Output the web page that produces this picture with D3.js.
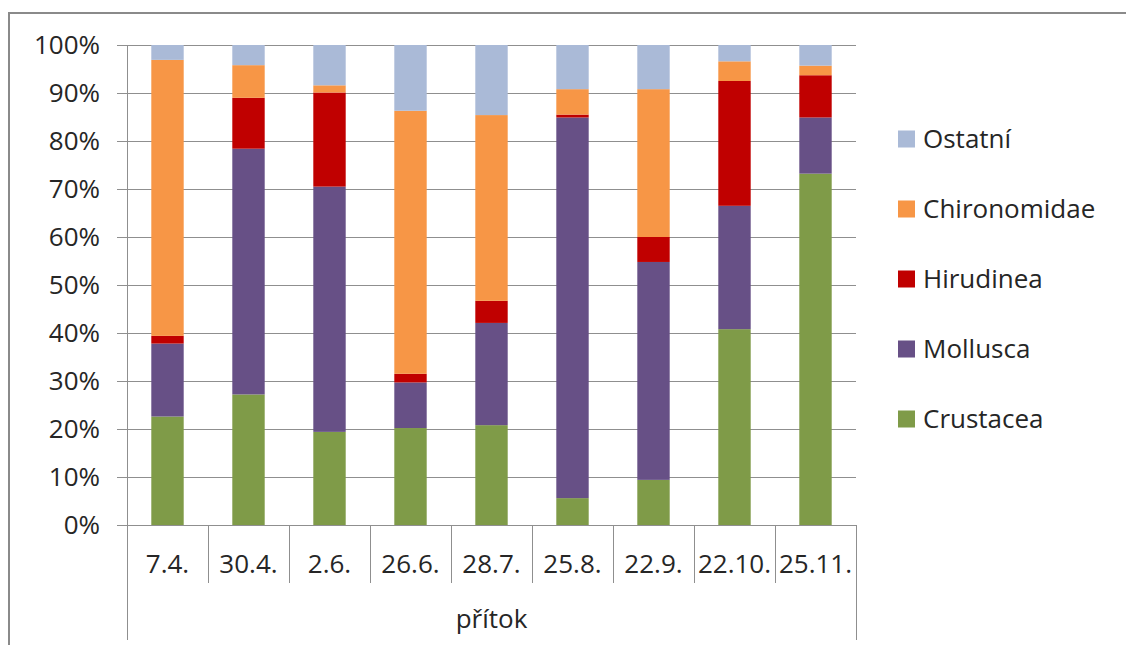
<!DOCTYPE html>
<html>
<head>
<meta charset="utf-8">
<script src="https://cdn.jsdelivr.net/npm/d3@7"></script>
<style>
  html, body { margin: 0; padding: 0; background: #fff; }
  svg { display: block; }
  text { font-family: "Open Sans", "DejaVu Sans", sans-serif; fill: #262626; }
</style>
</head>
<body>
<svg id="chart" width="1126" height="645"></svg>
<script>
const categories = ["7.4.", "30.4.", "2.6.", "26.6.", "28.7.", "25.8.", "22.9.", "22.10.", "25.11."];
const groupLabel = "přítok";
const seriesNames = ["Crustacea", "Mollusca", "Hirudinea", "Chironomidae", "Ostatní"];
const crustacea    = [22.6, 27.2, 19.4, 20.2, 20.8,  5.6,  9.4, 40.8, 73.2];
const mollusca     = [15.2, 51.2, 51.1,  9.5, 21.3, 79.3, 45.4, 25.7, 11.7];
const hirudinea    = [ 1.6, 10.6, 19.6,  1.8,  4.6,  0.6,  5.2, 26.0,  8.8];
const chironomidae = [57.5,  6.8,  1.5, 54.8, 38.7,  5.3, 30.8,  4.1,  2.0];
const ostatni      = [ 3.1,  4.2,  8.4, 13.7, 14.6,  9.2,  9.2,  3.4,  4.3];
const colors = ["#7F9B48", "#675086", "#C00000", "#F79646", "#AABAD7"];
const yTicks = [0, 0.1, 0.2, 0.3, 0.4, 0.5, 0.6, 0.7, 0.8, 0.9, 1.0];

const seriesValues = [crustacea, mollusca, hirudinea, chironomidae, ostatni];
const rows = categories.map((c, i) => {
  const r = { cat: c };
  seriesNames.forEach((s, k) => r[s] = seriesValues[k][i]);
  return r;
});

const svg = d3.select("#chart");
const plotLeft = 127, plotRight = 856, plotTop = 45, plotBottom = 525;
const gridColor = "#8f8f8f";

// outer frame (cut off at right/bottom)
svg.append("rect").attr("x", 9).attr("y", 13).attr("width", 1300).attr("height", 800)
  .attr("fill", "none").attr("stroke", "#8a8a8a").attr("stroke-width", 2);

const x = d3.scaleBand().domain(categories).range([plotLeft, plotRight]).paddingInner(0.6).paddingOuter(0.3);
const xCat = d3.scaleBand().domain(categories).range([plotLeft, plotRight]).padding(0);
const y = d3.scaleLinear().domain([0, 1]).range([plotBottom, plotTop]);

// gridlines + y ticks
svg.append("g").selectAll("line").data(yTicks).join("line")
  .attr("x1", plotLeft - 10).attr("x2", plotRight)
  .attr("y1", d => Math.round(y(d)) + 0.5).attr("y2", d => Math.round(y(d)) + 0.5)
  .attr("stroke", gridColor).attr("stroke-width", 1);

svg.append("g").selectAll("text").data(yTicks).join("text")
  .attr("x", 100).attr("y", d => y(d)).attr("dy", "0.36em")
  .attr("text-anchor", "end").attr("font-size", 26)
  .text(d => d3.format(".0%")(d));

// stacked bars
const stack = d3.stack().keys(seriesNames).offset(d3.stackOffsetExpand);
const stacked = stack(rows);
svg.append("g").selectAll("g").data(stacked).join("g")
  .attr("fill", (d, i) => colors[i])
  .selectAll("rect").data(d => d).join("rect")
  .attr("x", d => x(d.data.cat))
  .attr("width", x.bandwidth())
  .attr("y", d => y(d[1]))
  .attr("height", d => y(d[0]) - y(d[1]));

// axis lines
svg.append("line").attr("x1", plotLeft + 0.5).attr("x2", plotLeft + 0.5).attr("y1", plotTop).attr("y2", 640)
  .attr("stroke", gridColor);
svg.append("line").attr("x1", plotRight + 0.5).attr("x2", plotRight + 0.5).attr("y1", plotBottom).attr("y2", 640)
  .attr("stroke", gridColor);
svg.append("line").attr("x1", plotLeft).attr("x2", plotRight).attr("y1", plotBottom + 0.5).attr("y2", plotBottom + 0.5)
  .attr("stroke", gridColor);
// category separators
svg.append("g").selectAll("line").data(categories.slice(1)).join("line")
  .attr("x1", d => Math.round(xCat(d)) + 0.5).attr("x2", d => Math.round(xCat(d)) + 0.5)
  .attr("y1", plotBottom).attr("y2", 583)
  .attr("stroke", gridColor);

// category labels
svg.append("g").selectAll("text").data(categories).join("text")
  .attr("x", d => xCat(d) + xCat.bandwidth() / 2).attr("y", 573)
  .attr("text-anchor", "middle").attr("font-size", 26)
  .text(d => d);

svg.append("text").attr("x", (plotLeft + plotRight) / 2).attr("y", 628)
  .attr("text-anchor", "middle").attr("font-size", 26).text(groupLabel);

// legend (reverse order)
const legendItems = seriesNames.map((s, i) => ({ name: s, color: colors[i] })).reverse();
const lg = svg.append("g").selectAll("g").data(legendItems).join("g")
  .attr("transform", (d, i) => `translate(898, ${139 + i * 70})`);
lg.append("rect").attr("x", 0).attr("y", -8.5).attr("width", 17).attr("height", 17)
  .attr("fill", d => d.color);
lg.append("text").attr("x", 25).attr("y", 0).attr("dy", "0.36em")
  .attr("font-size", 26).text(d => d.name);
</script>
</body>
</html>
